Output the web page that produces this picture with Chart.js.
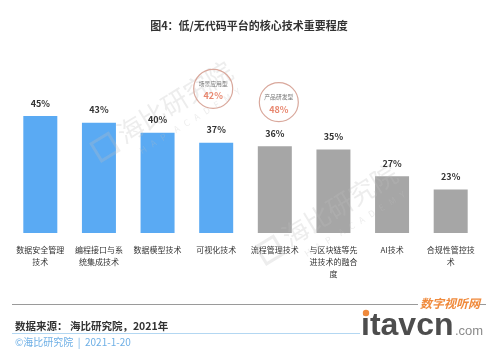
<!DOCTYPE html>
<html>
<head>
<meta charset="utf-8">
<script src="https://cdn.jsdelivr.net/npm/chart.js@4.4.1/dist/chart.umd.min.js"></script>
<style>
    html, body { margin: 0; padding: 0; background: #fff; }
    #chart { display: block; }
</style>
</head>
<body>
<canvas id="chart" width="500" height="352"></canvas>
<script>
    "use strict";

    // data
    const categories = [
        ["数据安全管理", "技术"],
        ["编程接口与系", "统集成技术"],
        ["数据模型技术"],
        ["可视化技术"],
        ["流程管理技术"],
        ["与区块链等先", "进技术的融合", "度"],
        ["AI技术"],
        ["合规性管控技", "术"],
    ];
    const values = [45, 43, 40, 37, 36, 35, 27, 23];
    const calloutBars = [3, 4];
    const calloutNames = ["场景应用型", "产品研发型"];
    const calloutValues = [42, 48];

    const titleText = "图4：低/无代码平台的核心技术重要程度";
    const sourceText = "数据来源： 海比研究院，2021年";
    const copyText = "©海比研究院  |  2021-1-20";

    const FONT = "'Noto Sans CJK SC', 'Noto Sans', sans-serif";
    const BLUE = "#5aaaf3";
    const GREY = "#a6a6a6";

    // where the two circles sit relative to their bar top
    const calloutShift = [-3, 4];
    const calloutLift = [54, 44];

    function watermark(ctx, x, y) {
        ctx.save();
        ctx.translate(x, y);
        ctx.rotate(-0.55);
        ctx.fillStyle = "rgba(190,190,190,0.28)";
        ctx.strokeStyle = "rgba(190,190,190,0.28)";
        ctx.lineWidth = 3;
        ctx.strokeRect(-78, -14, 20, 20);
        ctx.font = "26px " + FONT;
        ctx.textAlign = "left";
        ctx.textBaseline = "middle";
        ctx.fillText("海比研究院", -50, -6);
        ctx.font = "9px " + FONT;
        ctx.fillText("H   A   P     A   C   A   D   E   M   Y", -40, 18);
        ctx.restore();
    }

    const decor = {
        id: "decor",
        afterDatasetsDraw(chart) {
            const ctx = chart.ctx;
            const meta = chart.getDatasetMeta(0);
            ctx.save();

            watermark(ctx, 165, 115);
            watermark(ctx, 330, 218);

            // value labels
            ctx.textAlign = "center";
            ctx.textBaseline = "middle";
            ctx.font = "bold 9px " + FONT;
            ctx.fillStyle = "#333";
            meta.data.forEach((bar, i) => {
                ctx.fillText(values[i] + "%", bar.x, bar.y - 13);
            });

            // circled call-outs
            calloutBars.forEach((b, k) => {
                const bar = meta.data[b];
                const cx = bar.x + calloutShift[k];
                const cy = bar.y - calloutLift[k];
                ctx.beginPath();
                ctx.arc(cx, cy, 19.5, 0, Math.PI * 2);
                ctx.strokeStyle = "#d9a89c";
                ctx.lineWidth = 1.2;
                ctx.stroke();
                ctx.font = "5.8px " + FONT;
                ctx.fillStyle = "#777";
                ctx.fillText(calloutNames[k], cx, cy - 5);
                ctx.font = "bold 9px " + FONT;
                ctx.fillStyle = "#e8876f";
                ctx.fillText(calloutValues[k] + "%", cx, cy + 7);
            });
            ctx.restore();
        },
        afterDraw(chart) {
            const ctx = chart.ctx;
            ctx.save();

            // title
            ctx.textAlign = "center";
            ctx.textBaseline = "middle";
            ctx.font = "bold 11px " + FONT;
            ctx.fillStyle = "#333";
            ctx.fillText(titleText, 249, 26);

            // footer rules
            ctx.lineWidth = 1;
            ctx.strokeStyle = "#9a9a9a";
            ctx.beginPath();
            ctx.moveTo(12, 304.5);
            ctx.lineTo(418, 304.5);
            ctx.moveTo(479, 304.5);
            ctx.lineTo(486, 304.5);
            ctx.stroke();
            ctx.strokeStyle = "#b3d7f2";
            ctx.beginPath();
            ctx.moveTo(12, 333.5);
            ctx.lineTo(360, 333.5);
            ctx.stroke();

            ctx.textAlign = "left";
            ctx.font = "bold 10.5px " + FONT;
            ctx.fillStyle = "#333";
            ctx.fillText(sourceText, 15, 326);
            ctx.font = "10px " + FONT;
            ctx.fillStyle = "#6fb0e6";
            ctx.fillText(copyText, 15, 342);

            // itavcn mark
            ctx.textBaseline = "alphabetic";
            ctx.font = "italic bold 12px " + FONT;
            ctx.fillStyle = "#f08a3c";
            ctx.fillText("数字视听网", 420, 308);
            ctx.font = "bold 32px 'Liberation Sans', Arial, sans-serif";
            ctx.fillStyle = "#4d4d4d";
            ctx.fillText("itavcn", 361, 335);
            ctx.font = "13px 'Liberation Sans', Arial, sans-serif";
            ctx.fillStyle = "#8a8a8a";
            ctx.fillText(".com", 455, 335);
            ctx.fillStyle = "#f08a3c";
            ctx.beginPath();
            ctx.arc(366, 313, 3.2, 0, Math.PI * 2);
            ctx.fill();
            ctx.restore();
        },
    };

    const ctx = document.getElementById("chart").getContext("2d");
    new Chart(ctx, {
        type: "bar",
        data: {
            labels: categories,
            datasets: [
                {
                    data: values,
                    backgroundColor: values.map((v, i) => (i < 4 ? BLUE : GREY)),
                    barPercentage: 0.58,
                    categoryPercentage: 1,
                },
            ],
        },
        options: {
            responsive: false,
            animation: false,
            devicePixelRatio: 1,
            layout: {
                padding: { top: 66, left: 11, right: 20, bottom: 0 },
            },
            plugins: {
                legend: { display: false },
                tooltip: { enabled: false },
            },
            scales: {
                x: {
                    grid: { display: false, drawTicks: false },
                    border: { display: false },
                    ticks: {
                        color: "#333",
                        padding: 11,
                        maxRotation: 0,
                        autoSkip: false,
                        font: { family: FONT, size: 8, lineHeight: 1.5 },
                    },
                    afterFit(scale) {
                        scale.height = 119;
                    },
                },
                y: {
                    display: false,
                    min: 10,
                    max: 60,
                },
            },
        },
        plugins: [decor],
    });
</script>
</body>
</html>
